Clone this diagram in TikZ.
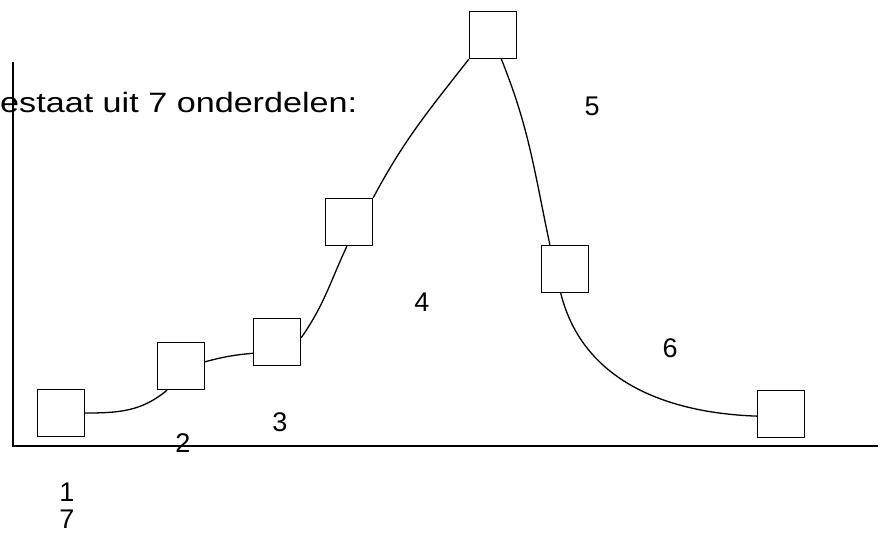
\documentclass[tikz,border=0pt]{standalone}
\usepackage{fontspec}
\setmainfont{Liberation Sans}
\usetikzlibrary{positioning}

\begin{document}
\begin{tikzpicture}[x=1pt,y=-1pt,
  part/.style={draw,line width=1.4pt,minimum size=47pt,inner sep=0pt},
  lbl/.style={font=\fontsize{27}{30}\selectfont,inner sep=0pt},
  link/.style={line width=1.3pt}]
\useasboundingbox (0,0) rectangle (883,533);

% Axes
\coordinate (top) at (13,62);
\coordinate (orig) at (13,446);
\coordinate (end) at (878,446);
\draw[line width=2pt] (top) -- (orig) -- (end);

% Heading (cut off at the left)
\node[inner sep=0pt,anchor=base west] (head) at (0,112)
  {\scalebox{1.22}[1]{\fontsize{28}{30}\selectfont estaat uit 7 onderdelen:}};

% The seven boxes
\node[part] (part1) at (61,413) {};
\node[part] (part2) at (181,366) {};
\node[part] (part3) at (277,342) {};
\node[part] (part4) at (349,222) {};
\node[part] (part5) at (493,35) {};
\node[part] (part6) at (565,269) {};
\node[part] (part7) at (781,414) {};

% Curve through the boxes
\draw[link] (part1.east) to[out=0,in=220] (part2.-120);
\draw[link] (part2.10) to[out=15,in=185] (part3.-155);
\draw[link] (part3.10) to[out=55,in=-115] (part4.-95);
\draw[link] (part4.north east) to[out=62,in=-128] (part5.south west);
\draw[link] (part5.-71) to[out=-68,in=102] (part6.122);
\draw[link] (part6.-100) to[out=-76,in=178] (part7.185);

% Numbers
\node[lbl] (n1) at (67,492) {1};
\node[lbl] (n7) at (67,519) {7};
\node[lbl] (n2) at (183,443) {2};
\node[lbl] (n3) at (280,422) {3};
\node[lbl] (n4) at (422,302) {4};
\node[lbl] (n5) at (592,106) {5};
\node[lbl] (n6) at (670,348) {6};

\end{tikzpicture}
\end{document}
